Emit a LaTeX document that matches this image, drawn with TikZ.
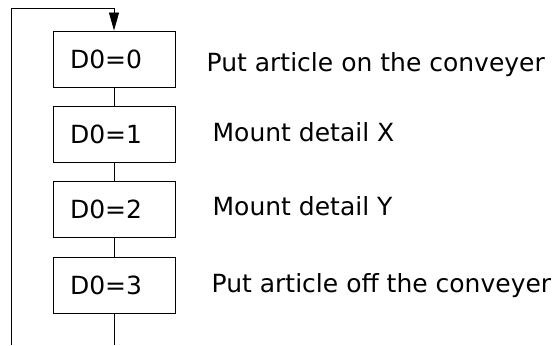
\documentclass[tikz,border=0pt]{standalone}
\usepackage{fontspec}
\setmainfont{DejaVu Sans}
\usepackage{tikz}
\usetikzlibrary{positioning,arrows.meta}

\begin{document}
\begin{tikzpicture}[x=1pt, y=-1pt, node distance=18.5pt,
  stepbox/.style={draw, line width=0.9pt, minimum width=122pt, minimum height=56pt, text width=88pt, inner xsep=17pt, align=left, font=\fontsize{25pt}{30pt}\selectfont},
  notelabel/.style={anchor=base west, inner sep=0pt, font=\fontsize{25pt}{30pt}\selectfont},
  link/.style={line width=0.9pt}]
\useasboundingbox (0,0) rectangle (556,345);
\node[stepbox] (d0) at (114,59) {D0=0};
\node[stepbox, below=of d0] (d1) {D0=1};
\node[stepbox, below=of d1] (d2) {D0=2};
\node[stepbox, below=of d2] (d3) {D0=3};
\node[notelabel] (n0) at ([xshift=31pt, yshift=-3pt]d0.base east) {Put article on the conveyer};
\node[notelabel] (n1) at ([xshift=37pt, yshift=2pt]d1.base east) {Mount detail X};
\node[notelabel] (n2) at ([xshift=37pt, yshift=3pt]d2.base east) {Mount detail Y};
\node[notelabel] (n3) at ([xshift=36pt, yshift=2pt]d3.base east) {Put article off the conveyer};
\coordinate (tail) at (d3.south |- 0,345);
\coordinate (back) at (11,345);
\coordinate (top) at (11,8);
\draw[link] (d0) -- (d1);
\draw[link] (d1) -- (d2);
\draw[link] (d2) -- (d3);
\draw[link] (d3) -- (tail);
\draw[link, -{Triangle[length=18pt,width=10pt]}] (back) -- (top) -| (d0.north);
\end{tikzpicture}
\end{document}
